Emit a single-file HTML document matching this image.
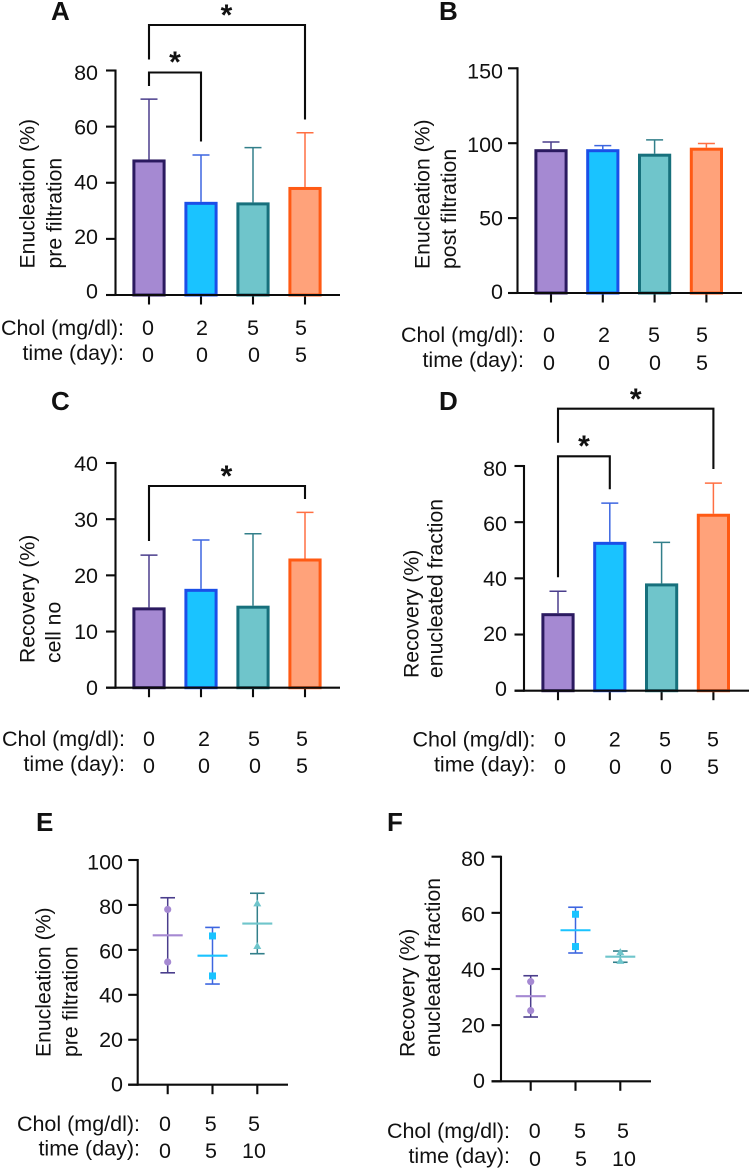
<!DOCTYPE html>
<html lang="en">
<head>
<meta charset="utf-8">
<title>Enucleation and recovery panels</title>
<style>
html,body{margin:0;padding:0;background:#fff;}
#figure{display:block;width:751px;height:1175px;font-family:"Liberation Sans",Arial,sans-serif;filter:blur(0.3px);}
text{font-family:"Liberation Sans",Arial,sans-serif;fill:#111;}
</style>
</head>
<body>
<svg id="figure" xmlns="http://www.w3.org/2000/svg" width="751" height="1175" viewBox="0 0 751 1175"></svg>
<script>
// ---------- Data ----------
const panelACategories = ['chol-0-day-0', 'chol-2-day-0', 'chol-5-day-0', 'chol-5-day-5'];
const panelAMeans = [48.3, 33.2, 33, 38.5];
const panelAErrorTops = [69.8, 49.9, 52.5, 57.8];
const panelATicks = [0, 20, 40, 60, 80];

const panelBMeans = [96, 96, 93, 97];
const panelBErrorTops = [100.8, 98.4, 102.2, 99.8];
const panelBTicks = [0, 50, 100, 150];

const panelCMeans = [14.3, 17.6, 14.6, 23];
const panelCErrorTops = [23.6, 26.3, 27.4, 31.2];
const panelCTicks = [0, 10, 20, 30, 40];

const panelDMeans = [27.6, 53, 38.2, 63];
const panelDErrorTops = [35.4, 66.8, 52.8, 73.9];
const panelDTicks = [0, 20, 40, 60, 80];

const panelEMeans = [66.5, 57.4, 71.7];
const panelEErrorTops = [83.2, 70, 85.2];
const panelEErrorBottoms = [49.8, 44.8, 58.3];
const panelEPointsHigh = [78, 66.2, 80.7];
const panelEPointsLow = [54.6, 48.4, 61.7];
const panelETicks = [0, 20, 40, 60, 80, 100];

const panelFMeans = [30.3, 53.8, 44.4];
const panelFErrorTops = [37.6, 62, 46.4];
const panelFErrorBottoms = [22.9, 45.7, 42.4];
const panelFPointsHigh = [35.5, 59.5, 46];
const panelFPointsLow = [25.2, 48, 42.9];
const panelFTicks = [0, 20, 40, 60, 80];

const barCholLabels = ['0', '2', '5', '5'];
const barTimeLabels = ['0', '0', '0', '5'];
const dotCholLabels = ['0', '5', '5'];
const dotTimeLabels = ['0', '5', '10'];

// ---------- Styling ----------
const FILLS = ['#a589d2', '#1ac3ff', '#6fc5cb', '#ffa27a'];
const BORDERS = ['#2b1a60', '#1a4fe8', '#17707c', '#ff5a14'];
const WHISKERS = ['#4a3d8c', '#3d66e0', '#327f8a', '#ff6f42'];
const INK = '#0c0c0c';
const svg = document.getElementById('figure');
const NS = 'http://www.w3.org/2000/svg';

function mk(tag, attrs, parent) {
  const node = document.createElementNS(NS, tag);
  for (const k in attrs) node.setAttribute(k, attrs[k]);
  parent.appendChild(node);
  return node;
}
function label(parent, str, x, y, size, anchor, weight, rotate) {
  const a = {x: x, y: y, 'font-size': size, 'text-anchor': anchor};
  if (weight) a['font-weight'] = weight;
  if (rotate) a.transform = 'rotate(-90 ' + x + ' ' + y + ')';
  const t = mk('text', a, parent);
  t.textContent = str;
  return t;
}
function panelGroup(id) {
  const g = mk('g', {}, svg);
  
  
  return g;
}

function drawFrame(g, id, L, ticks) {
  const yScale = v => L.yZero - (v / ticks[ticks.length - 1]) * (L.yZero - L.yTop);
  const xCenter = i => L.x0 + L.step * i;

  const letter = label(g, id, L.letter[0], L.letter[1], 26, 'start', 'bold');
  
  

  L.titles.forEach((line, i) => {
    const t = label(g, line, L.titleX[i], L.titleBottom, 21.2, 'start', null, true);
    
    
  });

  ticks.forEach((v, i) => {
    const y = yScale(v);
    const tick = mk('line', {x1: L.axisX - 9.5, x2: L.axisX, y1: y, y2: y, stroke: INK, 'stroke-width': 2.1}, g);
    
    
    const f = i / (ticks.length - 1);
    const off = L.tickOff[0] + (L.tickOff[1] - L.tickOff[0]) * f;
    const t = label(g, String(v), L.tickRight, y + off, 21.5, 'end');
    
    
  });

  for (let i = 0; i < L.count; i++) {
    const x = xCenter(i);
    const tick = mk('line', {x1: x, x2: x, y1: L.yZero, y2: L.yZero + 9.5, stroke: INK, 'stroke-width': 2.1}, g);
    
    
  }

  const cholHead = label(g, 'Chol (mg/dl):', L.rowRight, L.rowY[0], 21.5, 'end');
  
  
  const timeHead = label(g, 'time (day):', L.rowRight, L.rowY[1], 21.5, 'end');
  
  

  L.chol.forEach((str, i) => {
    const t = label(g, str, L.cholX[i], L.valY[0], 21.5, 'middle');
    
    
  });
  L.time.forEach((str, i) => {
    const t = label(g, str, L.timeX[i], L.valY[1], 21.5, 'middle');
    
    
  });

  return {yScale, xCenter};
}

function drawAxes(g, id, L) {
  const yAxis = mk('line', {x1: L.axisX, x2: L.axisX, y1: L.yTop - 1, y2: L.yZero + 1, stroke: INK, 'stroke-width': 2.1}, g);
  
  

  const xAxis = mk('line', {x1: L.axisX - 9.5, x2: L.xEnd, y1: L.yZero, y2: L.yZero, stroke: INK, 'stroke-width': 2.1}, g);
  
  
}

function drawBarPanel(id, L, means, tops, ticks) {
  const g = panelGroup(id);
  L.count = means.length;
  const {yScale, xCenter} = drawFrame(g, id, L, ticks);
  means.forEach((v, i) => {
    const x = xCenter(i);
    const yv = yScale(v);
    const ye = yScale(tops[i]);

    const whisker = mk('line', {x1: x, x2: x, y1: yv, y2: ye, stroke: WHISKERS[i], 'stroke-width': 1.5}, g);
    
    

    const cap = mk('line', {x1: x - 8.5, x2: x + 8.5, y1: ye, y2: ye, stroke: WHISKERS[i], 'stroke-width': 1.5}, g);
    
    

    const bar = mk('rect', {x: x - 15.1, y: yv + 1.5, width: 30.2, height: Math.max(0, L.yZero - yv - 1.5),
      fill: FILLS[i], stroke: BORDERS[i], 'stroke-width': 3}, g);
    
    
  });
  drawAxes(g, id, L);
  (L.brackets || []).forEach((b, i) => {
    const xa = xCenter(b.from), xb = xCenter(b.to);
    const path = mk('path', {d: 'M' + xa + ' ' + b.leftEnd + 'V' + b.top + 'H' + xb + 'V' + b.rightEnd,
      fill: 'none', stroke: INK, 'stroke-width': 2.1}, g);
    
    
    const star = label(g, '*', b.starX, b.starY, 30, 'middle', 'bold');
    
    
  });
}

function drawDotPanel(id, L, means, tops, bottoms, high, low, ticks) {
  const g = panelGroup(id);
  L.count = means.length;
  const {yScale, xCenter} = drawFrame(g, id, L, ticks);
  drawAxes(g, id, L);
  means.forEach((v, i) => {
    const x = xCenter(i);
    const yt = yScale(tops[i]);
    const yb = yScale(bottoms[i]);
    const ym = yScale(v);

    const whisker = mk('line', {x1: x, x2: x, y1: yt, y2: yb, stroke: WHISKERS[i], 'stroke-width': 1.5}, g);
    
    

    const capTop = mk('line', {x1: x - 7.3, x2: x + 7.3, y1: yt, y2: yt, stroke: WHISKERS[i], 'stroke-width': 1.6}, g);
    
    

    const capBottom = mk('line', {x1: x - 7.3, x2: x + 7.3, y1: yb, y2: yb, stroke: WHISKERS[i], 'stroke-width': 1.6}, g);
    
    

    const mean = mk('line', {x1: x - 15, x2: x + 15, y1: ym, y2: ym, stroke: FILLS[i], 'stroke-width': 2.1}, g);
    
    

    [high[i], low[i]].forEach((p, j) => {
      const py = yScale(p);
      let pt;
      if (i === 0) {
        pt = mk('circle', {cx: x, cy: py, r: 3.6, fill: FILLS[i]}, g);
      } else if (i === 1) {
        pt = mk('rect', {x: x - 3.5, y: py - 3.5, width: 7, height: 7, fill: FILLS[i]}, g);
      } else {
        pt = mk('path', {d: 'M' + x + ' ' + (py - 4) + 'l4 7h-8z', fill: FILLS[i]}, g);
      }
      
      
    });
  });
}

// ---------- Layouts ----------
drawBarPanel('A', {
  letter: [51, 20], axisX: 115.5, yTop: 70.5, yZero: 295, xEnd: 340, x0: 149, step: 52,
  tickRight: 98, tickOff: [3.5, 9.5], titles: ['Enucleation (%)', 'pre filtration'], titleX: [34.5, 61.5], titleBottom: 268.5,
  rowRight: 124, rowY: [335, 360], valY: [335, 362], cholX: [148, 202, 253, 301], timeX: [148, 202, 254, 301],
  chol: barCholLabels, time: barTimeLabels,
  brackets: [
    {from: 0, to: 3, top: 25, leftEnd: 59.5, rightEnd: 119.5, starX: 226.5, starY: 25},
    {from: 0, to: 1, top: 72.5, leftEnd: 86, rightEnd: 141.5, starX: 175, starY: 72}
  ]
}, panelAMeans, panelAErrorTops, panelATicks);

drawBarPanel('B', {
  letter: [439, 20], axisX: 517.5, yTop: 68.3, yZero: 293, xEnd: 742, x0: 551, step: 51.8,
  tickRight: 503, tickOff: [6, 10], titles: ['Enucleation (%)', 'post filtration'], titleX: [429.5, 456], titleBottom: 269,
  rowRight: 524, rowY: [342, 367], valY: [342, 370], cholX: [549, 604, 654, 702], timeX: [549, 604, 655, 702],
  chol: barCholLabels, time: barTimeLabels
}, panelBMeans, panelBErrorTops, panelBTicks);

drawBarPanel('C', {
  letter: [51, 410], axisX: 115.5, yTop: 463, yZero: 687.7, xEnd: 340, x0: 149, step: 52,
  tickRight: 98, tickOff: [7.3, 8], titles: ['Recovery (%)', 'cell no'], titleX: [34.5, 60.5], titleBottom: 663,
  rowRight: 125, rowY: [746, 771], valY: [746, 773], cholX: [149, 204, 254, 302], timeX: [149, 204, 255, 302],
  chol: barCholLabels, time: barTimeLabels,
  brackets: [{from: 0, to: 3, top: 486, leftEnd: 541, rightEnd: 499, starX: 226.5, starY: 486}]
}, panelCMeans, panelCErrorTops, panelCTicks);

drawBarPanel('D', {
  letter: [439, 410], axisX: 524, yTop: 466, yZero: 690.7, xEnd: 749, x0: 558, step: 51.8,
  tickRight: 507, tickOff: [5.3, 10], titles: ['Recovery (%)', 'enucleated fraction'], titleX: [418.5, 442.5], titleBottom: 678,
  rowRight: 535.5, rowY: [746.7, 771.7], valY: [746.7, 774], cholX: [560, 614.7, 665, 713], timeX: [560, 615, 666, 713],
  chol: barCholLabels, time: barTimeLabels,
  brackets: [
    {from: 0, to: 3, top: 408.7, leftEnd: 442.7, rightEnd: 469, starX: 635.7, starY: 409},
    {from: 0, to: 1, top: 456.3, leftEnd: 577.3, rightEnd: 489.3, starX: 584, starY: 456}
  ]
}, panelDMeans, panelDErrorTops, panelDTicks);

drawDotPanel('E', {
  letter: [36, 831], axisX: 137.7, yTop: 860, yZero: 1084.7, xEnd: 288, x0: 167.7, step: 44.8,
  tickRight: 123, tickOff: [7, 9.3], titles: ['Enucleation (%)', 'pre filtration'], titleX: [50.7, 77.3], titleBottom: 1057,
  rowRight: 140, rowY: [1131, 1155.7], valY: [1131, 1158], cholX: [165, 210.7, 254], timeX: [165, 211, 254],
  chol: dotCholLabels, time: dotTimeLabels
}, panelEMeans, panelEErrorTops, panelEErrorBottoms, panelEPointsHigh, panelEPointsLow, panelETicks);

drawDotPanel('F', {
  letter: [387, 831], axisX: 501, yTop: 856.7, yZero: 1081.3, xEnd: 651, x0: 530.7, step: 44.8,
  tickRight: 485, tickOff: [6.7, 9.3], titles: ['Recovery (%)', 'enucleated fraction'], titleX: [414.5, 440], titleBottom: 1057,
  rowRight: 510, rowY: [1138, 1163], valY: [1138, 1166], cholX: [534.7, 580, 623], timeX: [535, 581, 624],
  chol: dotCholLabels, time: dotTimeLabels
}, panelFMeans, panelFErrorTops, panelFErrorBottoms, panelFPointsHigh, panelFPointsLow, panelFTicks);
</script>
</body>
</html>
